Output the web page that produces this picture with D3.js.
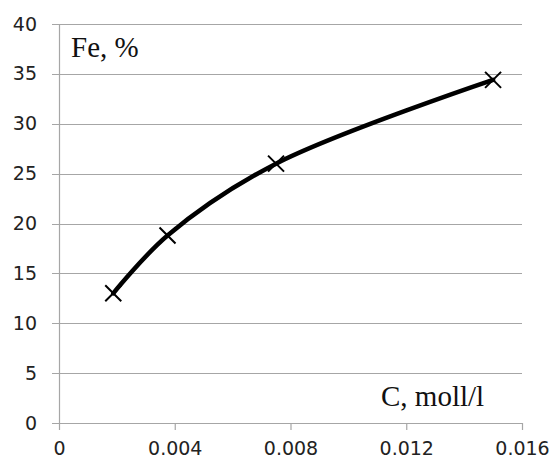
<!DOCTYPE html>
<html>
<head>
<meta charset="utf-8">
<script src="https://cdn.jsdelivr.net/npm/d3@7"></script>
<style>
  body { margin: 0; background: #fff; }
  svg { display: block; }
</style>
</head>
<body>
<script>
// data
const conc = [0.001875, 0.00375, 0.0075, 0.015];
const fe = [13, 18.8, 26, 34.4];
const xTicks = [0, 0.004, 0.008, 0.012, 0.016];
const xTickLabels = ["0", "0.004", "0.008", "0.012", "0.016"];
const yTicks = [0, 5, 10, 15, 20, 25, 30, 35, 40];

const W = 553, H = 468;
const margin = {top: 24, right: 31, bottom: 45, left: 59};
const width = W - margin.left - margin.right,
      height = H - margin.top - margin.bottom;

const svg = d3.select("body").append("svg")
  .attr("width", W)
  .attr("height", H);

const g = svg.append("g")
  .attr("transform", `translate(${margin.left},${margin.top})`);

const x = d3.scaleLinear().domain([0, 0.016]).range([0, width]);
const y = d3.scaleLinear().domain([0, 40]).range([height, 0]);

const grey = "#a6a6a6";

// horizontal gridlines (extend left past the axis like tick marks)
g.append("g")
  .selectAll("line")
  .data(yTicks)
  .enter().append("line")
  .attr("x1", -7)
  .attr("x2", width)
  .attr("y1", d => Math.round(y(d)) + 0.5)
  .attr("y2", d => Math.round(y(d)) + 0.5)
  .attr("stroke", grey)
  .attr("stroke-width", 1.2);

// y axis
const yAxis = g.append("g")
  .call(d3.axisLeft(y).tickValues(yTicks).tickSize(0).tickPadding(22));
yAxis.select(".domain").attr("stroke", grey).attr("stroke-width", 1.2);
yAxis.selectAll("text")
  .attr("font-family", "DejaVu Sans, sans-serif")
  .attr("font-size", 19)
  .attr("fill", "#222");

// x axis
const xAxis = g.append("g")
  .attr("transform", `translate(0,${height})`)
  .call(d3.axisBottom(x).tickValues(xTicks)
    .tickFormat((d, i) => xTickLabels[i])
    .tickSize(7).tickSizeOuter(0).tickPadding(12));
xAxis.select(".domain").attr("stroke", grey).attr("stroke-width", 1.2);
xAxis.selectAll(".tick line").attr("stroke", grey).attr("stroke-width", 1.2);
xAxis.selectAll("text")
  .attr("font-family", "DejaVu Sans, sans-serif")
  .attr("font-size", 19)
  .attr("fill", "#222");

const pts = conc.map((c, i) => [c, fe[i]]);

// smoothed line
g.append("path")
  .datum(pts)
  .attr("fill", "none")
  .attr("stroke", "#000")
  .attr("stroke-width", 4.5)
  .attr("stroke-linecap", "round")
  .attr("d", d3.line()
    .curve(d3.curveCatmullRom.alpha(0.5))
    .x(d => x(d[0]))
    .y(d => y(d[1])));

// x markers
const s = 8;
g.append("g")
  .selectAll("path")
  .data(pts)
  .enter().append("path")
  .attr("d", d => {
    const cx = x(d[0]), cy = y(d[1]);
    return `M${cx - s},${cy - s}L${cx + s},${cy + s}M${cx - s},${cy + s}L${cx + s},${cy - s}`;
  })
  .attr("stroke", "#000")
  .attr("stroke-width", 2);

// axis titles
svg.append("text")
  .attr("x", 71)
  .attr("y", 57)
  .attr("font-family", "Liberation Serif, Times New Roman, serif")
  .attr("font-size", 29)
  .attr("fill", "#111")
  .text("Fe, %");

svg.append("text")
  .attr("x", 381)
  .attr("y", 406)
  .attr("font-family", "Liberation Serif, Times New Roman, serif")
  .attr("font-size", 29)
  .attr("fill", "#111")
  .text("C, moll/l");
</script>
</body>
</html>
